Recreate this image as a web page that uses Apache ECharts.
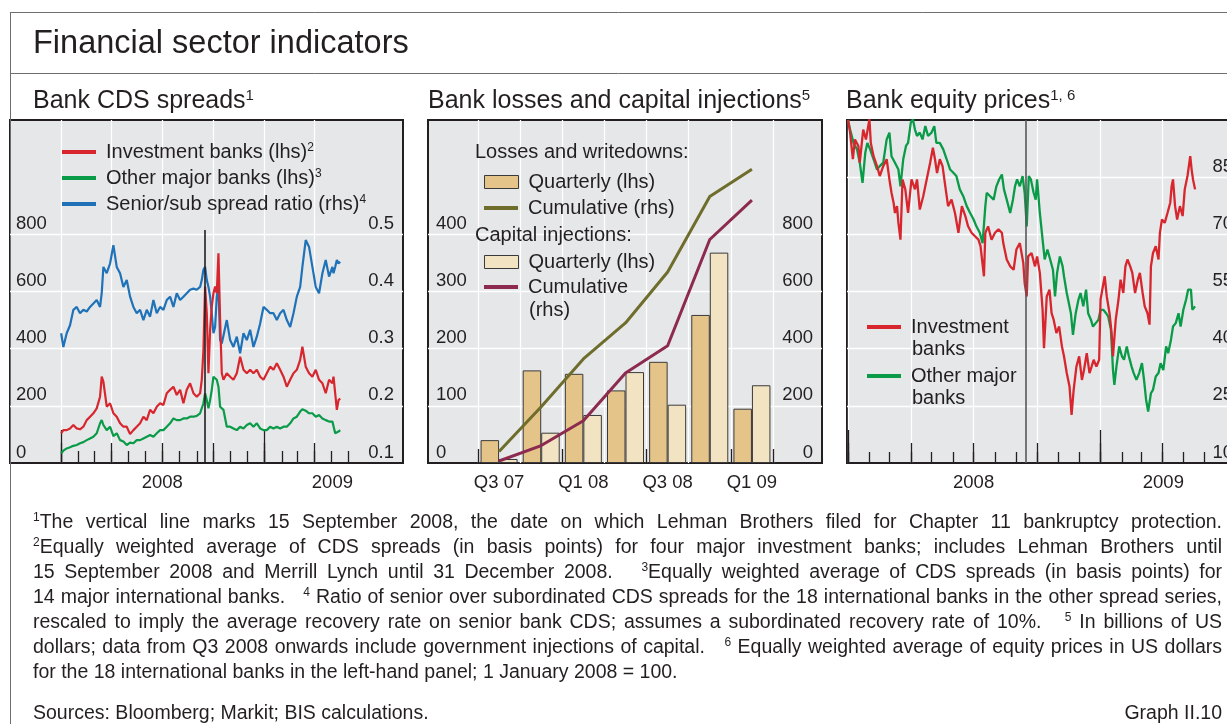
<!DOCTYPE html>
<html>
<head>
<meta charset="utf-8">
<title>Financial sector indicators</title>
<script src="https://cdn.jsdelivr.net/npm/echarts@6.0.0/dist/echarts.min.js"></script>
<style>
  html, body { margin: 0; padding: 0; background: #fff; }
  #chart { position: absolute; left: 0; top: 0; width: 1227px; height: 724px; }
  .notes { position: absolute; left: 33px; width: 1189px; top: 509px;
           font: 19.5px/25px "Liberation Sans", Arial, sans-serif; color: #231f20; }
  .notes div { text-align: justify; text-align-last: justify; }
  .notes div.last { text-align-last: left; }
  .notes sup { font-size: 12px; line-height: 0; vertical-align: 7px; }
  .foot { position: absolute; top: 700px; font: 19.5px/25px "Liberation Sans", Arial, sans-serif; color: #231f20; }
</style>
</head>
<body>
<div id="chart"></div>
<div class="notes">
  <div><sup>1</sup>The vertical line marks 15 September 2008, the date on which Lehman Brothers filed for Chapter 11 bankruptcy protection.</div>
  <div><sup>2</sup>Equally weighted average of CDS spreads (in basis points) for four major investment banks; includes Lehman Brothers until</div>
  <div>15 September 2008 and Merrill Lynch until 31 December 2008. &nbsp; <sup>3</sup>Equally weighted average of CDS spreads (in basis points) for</div>
  <div>14 major international banks. &nbsp; <sup>4</sup> Ratio of senior over subordinated CDS spreads for the 18 international banks in the other spread series,</div>
  <div>rescaled to imply the average recovery rate on senior bank CDS; assumes a subordinated recovery rate of 10%. &nbsp; <sup>5</sup> In billions of US</div>
  <div>dollars; data from Q3 2008 onwards include government injections of capital. &nbsp; <sup>6</sup> Equally weighted average of equity prices in US dollars</div>
  <div class="last">for the 18 international banks in the left-hand panel; 1 January 2008 = 100.</div>
</div>
<div class="foot" style="left:33px;">Sources: Bloomberg; Markit; BIS calculations.</div>
<div class="foot" style="right:5px;">Graph II.10</div>
<script>
// ---- data ----
// Bank CDS spreads (days after 1 January 2008)
const cdsDays = [0, 4, 10, 16, 22, 28, 34, 40, 46, 52, 58, 64, 70, 73, 76, 82, 88, 94, 100, 106,
  112, 118, 124, 130, 136, 142, 148, 154, 160, 166, 172, 178, 184, 190, 196, 202, 208, 214, 220, 226,
  232, 238, 244, 250, 253, 256, 259, 262, 265, 268, 271, 274, 277, 280, 283, 286, 289, 292, 298, 304,
  310, 316, 322, 328, 334, 340, 346, 352, 358, 364, 370, 376, 382, 388, 394, 400, 406, 412, 418, 424,
  430, 434, 440, 446, 452, 458, 464, 470, 476, 482, 488, 490, 493, 496, 499, 502];
const invBankCds = [104, 115, 115, 121, 133, 121, 118, 127, 150, 162, 174, 191, 232, 302, 285, 197, 209, 174, 162, 139,
  127, 127, 101, 115, 127, 139, 162, 150, 186, 174, 197, 209, 203, 244, 256, 267, 238, 256, 209, 256,
  279, 244, 232, 244, 291, 396, 617, 524, 314, 466, 547, 594, 617, 594, 734, 500, 314, 291, 314, 302,
  291, 314, 372, 326, 314, 326, 314, 326, 302, 291, 314, 337, 326, 349, 326, 302, 267, 291, 314, 326,
  361, 407, 337, 314, 302, 326, 291, 279, 244, 291, 279, 302, 244, 186, 220, 226];
const otherBankCds = [34, 43, 51, 55, 60, 63, 69, 73, 80, 86, 92, 104, 139, 150, 133, 115, 127, 94, 104, 80,
  75, 63, 71, 69, 80, 80, 86, 92, 98, 92, 104, 115, 115, 127, 139, 156, 150, 150, 156, 156,
  162, 162, 165, 174, 180, 209, 244, 220, 191, 220, 256, 302, 296, 291, 267, 197, 191, 186, 127, 127,
  121, 115, 127, 121, 133, 139, 127, 139, 121, 115, 115, 127, 121, 127, 121, 127, 127, 139, 156, 162,
  180, 188, 183, 174, 174, 162, 168, 156, 150, 145, 145, 139, 104, 104, 110, 115];
const seniorSubRatio = [0.327, 0.303, 0.327, 0.341, 0.368, 0.373, 0.362, 0.368, 0.365, 0.373, 0.379, 0.385, 0.373, 0.397, 0.443, 0.432, 0.449, 0.481, 0.443, 0.432,
  0.408, 0.420, 0.391, 0.373, 0.362, 0.368, 0.350, 0.368, 0.356, 0.385, 0.362, 0.373, 0.368, 0.385, 0.391, 0.373, 0.397, 0.385, 0.391, 0.397,
  0.403, 0.405, 0.403, 0.408, 0.420, 0.438, 0.443, 0.420, 0.408, 0.391, 0.362, 0.327, 0.338, 0.391, 0.408, 0.315, 0.309, 0.309, 0.350, 0.315,
  0.303, 0.321, 0.292, 0.327, 0.315, 0.333, 0.303, 0.321, 0.344, 0.373, 0.368, 0.362, 0.362, 0.350, 0.362, 0.368, 0.350, 0.338, 0.362, 0.391,
  0.408, 0.443, 0.490, 0.478, 0.443, 0.408, 0.397, 0.432, 0.455, 0.426, 0.443, 0.432, 0.443, 0.455, 0.449, 0.452];

// Bank losses and capital injections (USD bn)
const quarters = ['Q3 07', 'Q4 07', 'Q1 08', 'Q2 08', 'Q3 08', 'Q4 08', 'Q1 09'];
const lossesQuarterly = [40, 162, 156, 127, 177, 259, 95];
const lossesCumulative = [40, 197, 364, 490, 668, 932, 1028];
const capitalQuarterly = [7, 53, 84, 159, 102, 368, 136];
const capitalCumulative = [7, 61, 148, 315, 410, 782, 920];

// Bank equity prices (days after 1 January 2008; 1 January 2008 = 100)
const eqInvDays = [0, 3, 7, 10, 15, 17, 22, 26, 31, 33, 37, 42, 46, 51, 56, 60, 63, 66, 68, 71,
  73, 76, 79, 83, 87, 92, 97, 100, 104, 109, 114, 119, 123, 126, 129, 133, 137, 141, 145, 150,
  155, 160, 165, 170, 174, 179, 184, 189, 192, 197, 199, 203, 208, 213, 218, 223, 225, 230, 235, 240,
  244, 249, 254, 256, 259, 261, 266, 271, 274, 278, 282, 284, 288, 292, 295, 298, 302, 306, 310, 313,
  317, 321, 324, 327, 331, 335, 339, 342, 346, 350, 353, 356, 360, 364, 366, 372, 375, 379, 382, 384,
  388, 392, 395, 399, 402, 405, 409, 412, 416, 420, 423, 427, 430, 434, 437, 439, 442, 446, 450, 452,
  455, 459, 463, 467, 469, 471, 474, 477, 481, 485, 488, 492, 496, 498, 500, 503];
const eqInvBanks = [100, 96.7, 89.7, 94.9, 93.2, 88.8, 97.5, 94.9, 100.2, 94.0, 90.5, 87.9, 85.3, 87.9, 89.7, 84.4, 80.9, 78.3, 75.6, 77.4,
  73.0, 68.6, 84.4, 81.8, 75.6, 84.4, 81.8, 84.4, 76.5, 80.0, 84.4, 88.8, 92.7, 89.7, 86.1, 89.7, 87.9, 82.6, 77.4, 79.1,
  75.6, 70.4, 77.4, 74.8, 72.1, 70.4, 69.5, 68.6, 66.9, 59.0, 70.4, 72.1, 68.6, 70.4, 71.3, 70.4, 67.7, 63.4, 61.6, 60.7,
  66.0, 67.7, 62.5, 57.2, 53.7, 64.2, 65.1, 61.6, 64.2, 59.9, 50.2, 40.1, 53.7, 55.5, 49.3, 47.6, 44.1, 45.8, 40.6, 38.0,
  33.6, 30.1, 22.6, 29.2, 35.3, 38.0, 31.8, 34.4, 38.8, 33.6, 35.3, 37.1, 35.3, 37.1, 52.9, 59.0, 53.7, 49.3, 44.1, 38.0,
  47.6, 52.9, 58.1, 54.6, 61.6, 63.4, 61.6, 59.9, 54.6, 58.1, 59.9, 54.6, 51.1, 49.3, 46.3, 61.6, 65.1, 66.9, 63.4, 70.4,
  73.9, 73.0, 75.6, 78.3, 82.6, 84.4, 77.4, 73.9, 77.4, 74.8, 81.8, 85.3, 90.5, 87.0, 84.4, 81.8];
const eqOtherDays = [0, 3, 8, 13, 17, 21, 25, 28, 32, 37, 42, 46, 51, 56, 60, 63, 68, 73, 76, 80,
  84, 87, 91, 94, 97, 100, 104, 108, 112, 116, 121, 125, 128, 133, 138, 143, 148, 153, 157, 162,
  167, 172, 177, 182, 186, 191, 195, 199, 201, 206, 211, 215, 219, 223, 226, 230, 235, 239, 242, 245,
  249, 253, 256, 259, 262, 265, 269, 272, 274, 278, 282, 285, 289, 293, 297, 300, 303, 307, 311, 313,
  317, 320, 323, 326, 330, 334, 337, 341, 345, 348, 352, 355, 359, 363, 366, 370, 374, 377, 381, 384,
  386, 389, 393, 397, 400, 404, 407, 411, 414, 418, 422, 426, 429, 432, 435, 439, 442, 446, 450, 453,
  457, 461, 464, 468, 471, 475, 479, 482, 486, 490, 493, 497, 499, 503];
const eqOtherBanks = [100, 97.5, 94.0, 92.3, 88.8, 83.5, 91.4, 94.0, 92.3, 89.7, 87.0, 87.9, 88.8, 94.9, 96.7, 90.5, 88.8, 87.0, 82.6, 89.7,
  93.2, 94.0, 99.3, 100.2, 97.5, 95.8, 96.7, 94.9, 98.4, 95.8, 96.7, 98.4, 94.0, 94.0, 92.3, 89.7, 87.0, 86.1, 85.3, 81.8,
  80.0, 77.4, 75.6, 73.9, 72.1, 70.4, 67.7, 77.4, 80.9, 80.0, 79.1, 82.6, 84.4, 85.7, 81.8, 79.1, 75.6, 79.1, 82.6, 84.4,
  82.6, 85.3, 80.9, 72.1, 85.3, 84.4, 80.9, 79.1, 84.4, 75.6, 68.6, 63.4, 66.0, 63.4, 60.7, 53.7, 59.9, 64.2, 61.6, 59.0,
  54.6, 52.0, 49.3, 43.6, 49.3, 52.9, 54.6, 51.1, 55.5, 49.3, 47.6, 45.8, 46.7, 47.6, 50.2, 50.2, 49.3, 48.5, 45.0, 34.4,
  30.5, 35.3, 40.6, 38.0, 37.1, 40.6, 38.0, 35.3, 33.6, 31.8, 33.6, 36.2, 31.8, 26.6, 23.5, 28.3, 29.2, 32.7, 33.6, 36.2,
  34.4, 40.6, 38.8, 42.3, 45.8, 46.7, 49.3, 45.8, 50.2, 52.9, 55.5, 55.5, 50.2, 51.1];

// calendar ticks (days after 1 January 2008)
const monthStarts = [0, 31, 60, 91, 121, 152, 182, 213, 244, 274, 305, 335, 366, 397, 425, 456, 486, 517];
const quarterStarts = [0, 91, 182, 274, 366, 456];
const yearStarts = [0, 366];
const lehmanDay = 258;
const yearLabels = ['2008', '2009'];
const cdsYearLabelAt = [182, 488];
const eqYearLabelAt = [182, 457];

const cdsLhsTicks = [0, 200, 400, 600, 800];
const cdsRhsTicks = [0.1, 0.2, 0.3, 0.4, 0.5];
const lossLhsTicks = [0, 100, 200, 300, 400];
const lossRhsTicks = [0, 200, 400, 600, 800];
const eqTicks = [10, 25, 40, 55, 70, 85];

// ---- style ----
const ink = '#231f20';
const plotBg = '#e6e7e8';
const frameGrey = '#6d6e71';
const font = '"Liberation Sans", Arial, Helvetica, sans-serif';
const red = '#d7262e', green = '#0a9b48', blue = '#1f72b8';
const olive = '#6e6d2c', maroon = '#8c2a4f';
const tan = '#e5c48a', cream = '#f2e4c2';

const pairs = (xs, ys) => xs.map((x, i) => [x, ys[i]]);
const gridLine = { show: true, lineStyle: { color: '#ffffff', width: 1.3 } };
const axisFont = { color: ink, fontSize: 18.5, fontFamily: font };
const sup = { fontSize: 12, lineHeight: 12, fontFamily: font, color: ink, verticalAlign: 'top' };

function box(left, width) {
  return { left, top: 120, width, height: 343, show: true, backgroundColor: plotBg,
    borderColor: ink, borderWidth: 2, outerBoundsMode: 'none', containLabel: false };
}
function tickAxis(gridIndex, min, max, values, length, extra) {
  return Object.assign({
    type: 'value', gridIndex, min, max, position: 'bottom',
    axisLine: { show: false },
    axisTick: { show: true, inside: true, length, customValues: values, lineStyle: { color: ink, width: 1.3 } },
    axisLabel: { show: false },
    splitLine: { show: false }
  }, extra || {});
}
function labelAxis(gridIndex, min, max, at) {
  return {
    type: 'value', gridIndex, min, max, position: 'bottom',
    axisLine: { show: false }, axisTick: { show: false }, splitLine: { show: false },
    axisLabel: Object.assign({ customValues: at, margin: 10,
      formatter: v => yearLabels[at.indexOf(v)] || '' }, axisFont)
  };
}
function valueAxis(gridIndex, position, min, max, labels, lines, fmt, margin) {
  return {
    type: 'value', gridIndex, position, min, max,
    axisLine: { show: false },
    axisTick: { show: false, customValues: lines },
    splitLine: lines.length ? gridLine : { show: false },
    axisLabel: Object.assign({ customValues: labels, inside: true, margin,
      verticalAlign: 'bottom', padding: [0, 0, 1, 0], formatter: fmt }, axisFont)
  };
}
function legendAt(left, top, names, itemHeight, fmt, extra) {
  return Object.assign({
    left, top, padding: 0, orient: 'vertical', data: names, icon: 'rect',
    itemWidth: 34, itemHeight, itemGap: 6, selectedMode: false,
    formatter: fmt,
    textStyle: { color: ink, fontSize: 20, lineHeight: 20, fontFamily: font, padding: [0, 0, 0, 5], rich: { s: sup } }
  }, extra || {});
}
function label(text, x, y, size, extra) {
  return { type: 'text', x, y, z: 10, silent: true,
    style: Object.assign({ text, fill: ink, fontSize: size, fontFamily: font, verticalAlign: 'middle',
      rich: { s: { fontSize: Math.round(size * 0.6), lineHeight: Math.round(size * 0.6), fontFamily: font, fill: ink, verticalAlign: 'top' } } }, extra || {}) };
}
function frameLine(x1, y1, x2, y2) {
  return { type: 'line', silent: true, shape: { x1, y1, x2, y2 }, style: { stroke: frameGrey, lineWidth: 1 } };
}

const cdsNotes = { 'Investment banks (lhs)': '2', 'Other major banks (lhs)': '3', 'Senior/sub spread ratio (rhs)': '4' };
const lossNames = { 'Losses quarterly': 'Quarterly (lhs)', 'Losses cumulative': 'Cumulative (rhs)',
  'Capital quarterly': 'Quarterly (lhs)', 'Capital cumulative': 'Cumulative' };
const eqNames = { 'Investment banks': 'Investment', 'Other major banks': 'Other major' };

const cdsMin = -92, cdsMax = 615;
const eqMin = -1.5, eqMax = 571;

const chart = echarts.init(document.getElementById('chart'), null, { renderer: 'canvas' });
chart.setOption({
  animation: false,
  backgroundColor: '#ffffff',
  textStyle: { fontFamily: font },
  grid: [
    box(10, 393),
    box(428, 394),
    { left: 478, top: 120, width: 295, height: 343, show: false, outerBoundsMode: 'none', containLabel: false },
    box(847, 395)
  ],
  xAxis: [
    tickAxis(0, cdsMin, cdsMax, monthStarts, 12),
    tickAxis(0, cdsMin, cdsMax, quarterStarts, 20, { splitLine: gridLine }),
    tickAxis(0, cdsMin, cdsMax, yearStarts, 33),
    labelAxis(0, cdsMin, cdsMax, cdsYearLabelAt),
    { type: 'value', gridIndex: 1, min: 0, max: 1, show: false },
    { type: 'category', gridIndex: 2, data: quarters, boundaryGap: true,
      axisLine: { show: false },
      axisTick: { show: true, inside: true, length: 14, interval: 1, lineStyle: { color: ink, width: 1.3 } },
      axisLabel: Object.assign({ interval: 1, margin: 10 }, axisFont),
      splitLine: { show: true, interval: 0, lineStyle: { color: '#ffffff', width: 1.3 } } },
    tickAxis(3, eqMin, eqMax, monthStarts, 11),
    tickAxis(3, eqMin, eqMax, quarterStarts, 20, { splitLine: gridLine }),
    tickAxis(3, eqMin, eqMax, yearStarts, 33),
    labelAxis(3, eqMin, eqMax, eqYearLabelAt)
  ],
  yAxis: [
    valueAxis(0, 'left', 0, 1200, cdsLhsTicks, cdsLhsTicks.slice(1), v => String(v), 6),
    valueAxis(0, 'right', 0.1, 0.7, cdsRhsTicks, [], v => v.toFixed(1), 9),
    valueAxis(1, 'left', 0, 600, lossLhsTicks, lossLhsTicks.slice(1), v => String(v), 8),
    valueAxis(1, 'right', 0, 1200, lossRhsTicks, [], v => String(v), 9),
    { type: 'value', gridIndex: 2, min: 0, max: 600, show: false },
    { type: 'value', gridIndex: 2, min: 0, max: 1200, show: false, position: 'right' },
    valueAxis(3, 'right', 10, 100, eqTicks, eqTicks.slice(1), v => String(v), 9)
  ],
  legend: [
    legendAt(62, 142, Object.keys(cdsNotes), 4, n => n + '{s|' + cdsNotes[n] + '}'),
    legendAt(484, 172, ['Losses quarterly'], 13, n => lossNames[n], { itemStyle: { borderColor: '#3a3a3a', borderWidth: 1 } }),
    legendAt(484, 198, ['Losses cumulative'], 4, n => lossNames[n]),
    legendAt(484, 252, ['Capital quarterly'], 13, n => lossNames[n], { itemStyle: { borderColor: '#3a3a3a', borderWidth: 1 } }),
    legendAt(484, 277, ['Capital cumulative'], 4, n => lossNames[n]),
    legendAt(867, 317, ['Investment banks'], 4, n => eqNames[n]),
    legendAt(867, 366, ['Other major banks'], 4, n => eqNames[n])
  ],
  series: [
    { name: 'Senior/sub spread ratio (rhs)', type: 'line', xAxisIndex: 0, yAxisIndex: 1, data: pairs(cdsDays, seniorSubRatio),
      symbol: 'none', z: 3, itemStyle: { color: blue }, lineStyle: { color: blue, width: 2.2 } },
    { name: 'Investment banks (lhs)', type: 'line', xAxisIndex: 0, yAxisIndex: 0, data: pairs(cdsDays, invBankCds),
      symbol: 'none', z: 3, itemStyle: { color: red }, lineStyle: { color: red, width: 2.2 },
      markLine: { silent: true, symbol: 'none', label: { show: false },
        lineStyle: { color: ink, width: 1.6, type: 'solid' },
        data: [[{ coord: [lehmanDay, 0] }, { coord: [lehmanDay, 815] }]] } },
    { name: 'Other major banks (lhs)', type: 'line', xAxisIndex: 0, yAxisIndex: 0, data: pairs(cdsDays, otherBankCds),
      symbol: 'none', z: 3, itemStyle: { color: green }, lineStyle: { color: green, width: 2.2 } },

    { name: 'Losses quarterly', type: 'bar', xAxisIndex: 5, yAxisIndex: 4, data: lossesQuarterly,
      barWidth: 18.5, barGap: '0%', z: 2, itemStyle: { color: tan, borderColor: '#3a3a3a', borderWidth: 1 } },
    { name: 'Capital quarterly', type: 'bar', xAxisIndex: 5, yAxisIndex: 4, data: capitalQuarterly,
      barWidth: 18.5, barGap: '0%', z: 2, itemStyle: { color: cream, borderColor: '#3a3a3a', borderWidth: 1 } },
    { name: 'Losses cumulative', type: 'line', xAxisIndex: 5, yAxisIndex: 5, data: lossesCumulative,
      symbol: 'none', z: 4, itemStyle: { color: olive }, lineStyle: { color: olive, width: 3 } },
    { name: 'Capital cumulative', type: 'line', xAxisIndex: 5, yAxisIndex: 5, data: capitalCumulative,
      symbol: 'none', z: 4, itemStyle: { color: maroon }, lineStyle: { color: maroon, width: 3 } },

    { name: 'Other major banks', type: 'line', xAxisIndex: 6, yAxisIndex: 6, data: pairs(eqOtherDays, eqOtherBanks),
      symbol: 'none', z: 3, itemStyle: { color: green }, lineStyle: { color: green, width: 2.3 } },
    { name: 'Investment banks', type: 'line', xAxisIndex: 6, yAxisIndex: 6, data: pairs(eqInvDays, eqInvBanks),
      symbol: 'none', z: 3, itemStyle: { color: red }, lineStyle: { color: red, width: 2.3 },
      markLine: { silent: true, symbol: 'none', label: { show: false },
        lineStyle: { color: '#58595b', width: 1.6, type: 'solid' },
        data: [{ xAxis: lehmanDay }] } }
  ],
  graphic: [
    frameLine(10, 12.5, 1227, 12.5),
    frameLine(10, 73.5, 1227, 73.5),
    frameLine(10.5, 12, 10.5, 724),
    label('Financial sector indicators', 33, 44, 32.5),
    label('Bank CDS spreads{s|1}', 33, 101, 25),
    label('Bank losses and capital injections{s|5}', 428, 101, 25),
    label('Bank equity prices{s|1, 6}', 846, 101, 25),
    label('Losses and writedowns:', 475, 152, 20),
    label('Capital injections:', 475, 235, 20),
    label('(rhs)', 529, 310, 20),
    label('banks', 912, 349, 20),
    label('banks', 912, 398, 20)
  ]
});
</script>
</body>
</html>
